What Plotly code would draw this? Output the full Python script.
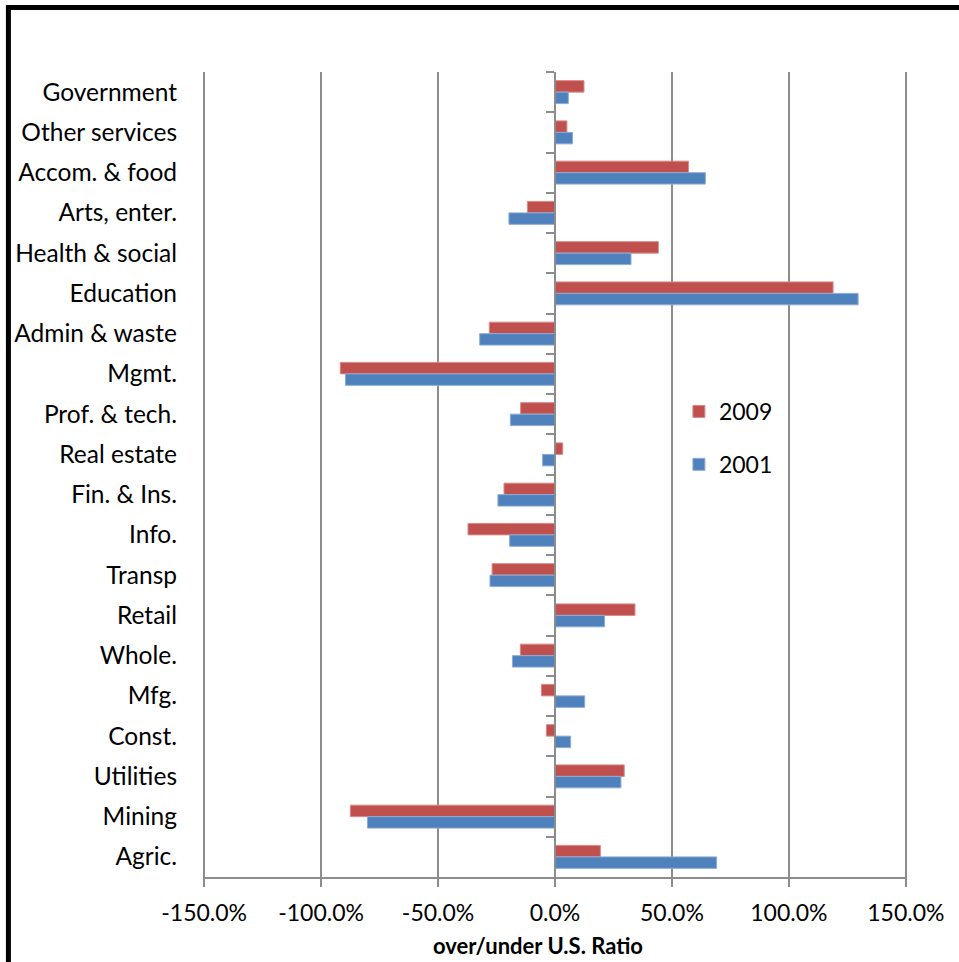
import plotly.graph_objects as go

# Industries, listed top to bottom as drawn
industries = [
    "Government", "Other services", "Accom. & food", "Arts, enter.",
    "Health & social", "Education", "Admin & waste", "Mgmt.",
    "Prof. & tech.", "Real estate", "Fin. & Ins.", "Info.", "Transp",
    "Retail", "Whole.", "Mfg.", "Const.", "Utilities", "Mining", "Agric.",
]

# Over/under U.S. ratio (%)
ratio_2009 = [12.4, 5.1, 57.1, -11.8, 44.2, 118.9, -28.1, -91.8, -14.7, 3.3,
              -21.8, -37.2, -26.9, 34.2, -14.8, -5.8, -3.7, 29.6, -87.5, 19.4]
ratio_2001 = [5.7, 7.5, 64.3, -19.7, 32.5, 129.6, -32.2, -89.6, -19.1, -5.3,
              -24.4, -19.4, -27.8, 21.2, -18.2, 12.7, 6.7, 28.2, -80.2, 69.1]

x_ticks = [-150, -100, -50, 0, 50, 100, 150]
x_tick_text = ["-150.0%", "-100.0%", "-50.0%", "0.0%", "50.0%", "100.0%", "150.0%"]

RED = "#C0504D"
BLUE = "#4F81BD"
GRID = "#8C8C8C"
FONT = "Lato, Calibri, sans-serif"

n_cat = len(industries)
y_range = [n_cat - 0.5, -0.5]  # top-to-bottom category order

fig = go.Figure()
fig.add_trace(go.Bar(
    name="2009", y=industries, x=ratio_2009, orientation="h",
    marker=dict(color=RED, line=dict(color="#D98A88", width=1)),
    legendgroup="a",
))
fig.add_trace(go.Bar(
    name="2001", y=industries, x=ratio_2001, orientation="h",
    marker=dict(color=BLUE, line=dict(color="#8DACD6", width=1)),
    legendgroup="b",
))
# invisible helper so the category axis at zero carries the boundary ticks
fig.add_trace(go.Scatter(
    y=industries, x=[0] * n_cat, yaxis="y2", mode="markers",
    marker=dict(opacity=0), showlegend=False, hoverinfo="skip",
))

fig.update_layout(
    width=959, height=962,
    margin=dict(l=203, r=52, t=72, b=85),
    paper_bgcolor="white", plot_bgcolor="white",
    barmode="group", bargap=0.43, bargroupgap=0,
    font=dict(family=FONT, size=23, color="#000000"),
    showlegend=True,
    legend=dict(
        x=0.676, xanchor="left", y=0.605, yanchor="top",
        font=dict(size=23), tracegroupgap=20, traceorder="grouped",
        bgcolor="rgba(0,0,0,0)",
    ),
    xaxis=dict(
        range=[-150.5, 150.5], tickvals=x_ticks, ticktext=x_tick_text,
        showgrid=True, gridcolor=GRID, gridwidth=2,
        zeroline=False, showline=True, linecolor=GRID, linewidth=2,
        ticks="outside", ticklen=8, tickwidth=2, tickcolor=GRID,
        ticklabelstandoff=6, tickfont=dict(size=23),
    ),
    yaxis=dict(
        type="category", categoryorder="array", categoryarray=industries,
        range=y_range, autorange=False, showgrid=False, zeroline=False,
        showline=False, ticks="", ticklabelstandoff=25,
        tickfont=dict(size=24.5),
    ),
    yaxis2=dict(
        overlaying="y", anchor="free", position=0.5, matches="y",
        type="category", showgrid=False, zeroline=False,
        showline=True, linecolor=GRID, linewidth=2,
        ticks="outside", tickson="boundaries", ticklen=8, tickwidth=2,
        tickcolor=GRID, showticklabels=False,
    ),
    annotations=[dict(
        text="<b>over/under U.S. Ratio</b>", xref="paper", yref="paper",
        x=0.476, y=-0.0845, xanchor="center", yanchor="middle",
        showarrow=False, font=dict(family=FONT, size=22),
    )],
    shapes=[dict(
        type="rect", xref="paper", yref="paper",
        x0=-0.2764, x1=1.3, y0=-0.3, y1=1.0801,
        line=dict(color="black", width=5), fillcolor="rgba(0,0,0,0)",
        layer="above",
    )],
)

fig.write_html("out.html")
